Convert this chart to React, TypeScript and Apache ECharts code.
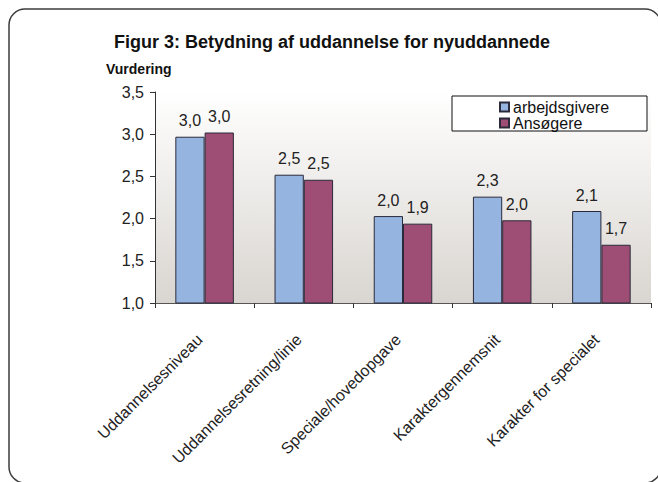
import React, { useEffect, useRef } from "react";
import * as echarts from "echarts";

const title = "Figur 3: Betydning af uddannelse for nyuddannede";
const yAxisName = "Vurdering";
const categories = [
  "Uddannelsesniveau",
  "Uddannelsesretning/linie",
  "Speciale/hovedopgave",
  "Karaktergennemsnit",
  "Karakter for specialet",
];
const seriesNames = ["arbejdsgivere", "Ansøgere"];
const arbejdsgivere = [2.97, 2.52, 2.03, 2.26, 2.09];
const ansoegere = [3.02, 2.46, 1.94, 1.98, 1.69];
const yMin = 1.0;
const yMax = 3.5;
const yInterval = 0.5;

const fmt = (v: number) => v.toFixed(1).replace(".", ",");

export default function App() {
  const ref = useRef<HTMLDivElement>(null);
  useEffect(() => {
    if (!ref.current) return;
    const chart = echarts.init(ref.current, undefined, { renderer: "svg" });
    const font = "Liberation Sans, Arial, sans-serif";
    const labelStyle = {
      show: true,
      position: "top" as const,
      distance: 8,
      fontFamily: font,
      fontSize: 16,
      color: "#222",
      formatter: (p: any) => fmt(p.value),
    };
    chart.setOption({
      animation: false,
      backgroundColor: "#ffffff",
      textStyle: { fontFamily: font },
      title: {
        text: title,
        left: 327,
        textAlign: "center",
        top: 28,
        textStyle: { fontFamily: font, fontSize: 18, fontWeight: "bold", color: "#111" },
      },
      graphic: [
        {
          type: "rect",
          shape: { x: 9, y: 9, width: 652, height: 474, r: 16 },
          style: { fill: "none", stroke: "#3c3c3c", lineWidth: 1.5 },
          silent: true,
        },
        {
          type: "text",
          left: 106,
          top: 62,
          style: { text: yAxisName, fontFamily: font, fontSize: 14, fontWeight: "bold", fill: "#111" },
        },
        {
          type: "rect",
          shape: { x: 452, y: 96, width: 195, height: 35 },
          style: { fill: "#ffffff", stroke: "#111", lineWidth: 1 },
          z: 10,
        },
      ],
      legend: {
        orient: "vertical",
        left: 499,
        top: 99,
        itemWidth: 9,
        itemHeight: 9,
        itemGap: 0,
        padding: 0,
        z: 20,
        icon: "rect",
        data: seriesNames,
        textStyle: { fontFamily: font, fontSize: 16, lineHeight: 16, color: "#111", padding: [0, 0, 0, -1] },
      },
      grid: {
        left: 155,
        right: 7,
        top: 92,
        bottom: 179,
        show: true,
        borderWidth: 0,
        backgroundColor: new echarts.graphic.LinearGradient(0, 0, 0, 1, [
          { offset: 0, color: "#ffffff" },
          { offset: 1, color: "#d9d5d0" },
        ]),
      },
      xAxis: {
        type: "category",
        data: categories,
        boundaryGap: true,
        axisLine: { show: true, lineStyle: { color: "#555", width: 1 } },
        axisTick: { show: true, length: 5, lineStyle: { color: "#333" } },
        axisLabel: {
          rotate: 45,
          margin: 29,
          padding: [0, 7, 0, 0],
          fontFamily: font,
          fontSize: 16,
          color: "#222",
          interval: 0,
        },
      },
      yAxis: {
        type: "value",
        min: yMin,
        max: yMax,
        interval: yInterval,
        axisLine: { show: true, lineStyle: { color: "#333", width: 1 } },
        axisTick: { show: true, length: 5, lineStyle: { color: "#333" } },
        splitLine: { show: false },
        axisLabel: {
          margin: 11,
          fontFamily: font,
          fontSize: 16,
          color: "#222",
          formatter: (v: number) => fmt(v),
        },
      },
      series: [
        {
          name: seriesNames[0],
          type: "bar",
          data: arbejdsgivere,
          barGap: "0%",
          barCategoryGap: "41%",
          itemStyle: {
            color: "#95b5e0",
            borderColor: "#2a2a3a",
            borderWidth: 1,
          },
          label: labelStyle,
        },
        {
          name: seriesNames[1],
          type: "bar",
          data: ansoegere,
          barGap: "0%",
          barCategoryGap: "41%",
          itemStyle: {
            color: "#9e4e74",
            borderColor: "#2a2a3a",
            borderWidth: 1,
          },
          label: labelStyle,
        },
      ],
    });
    return () => chart.dispose();
  }, []);
  return (
    <div
      ref={ref}
      style={{ position: "fixed", left: 0, top: 0, width: 658, height: 482 }}
    />
  );
}
